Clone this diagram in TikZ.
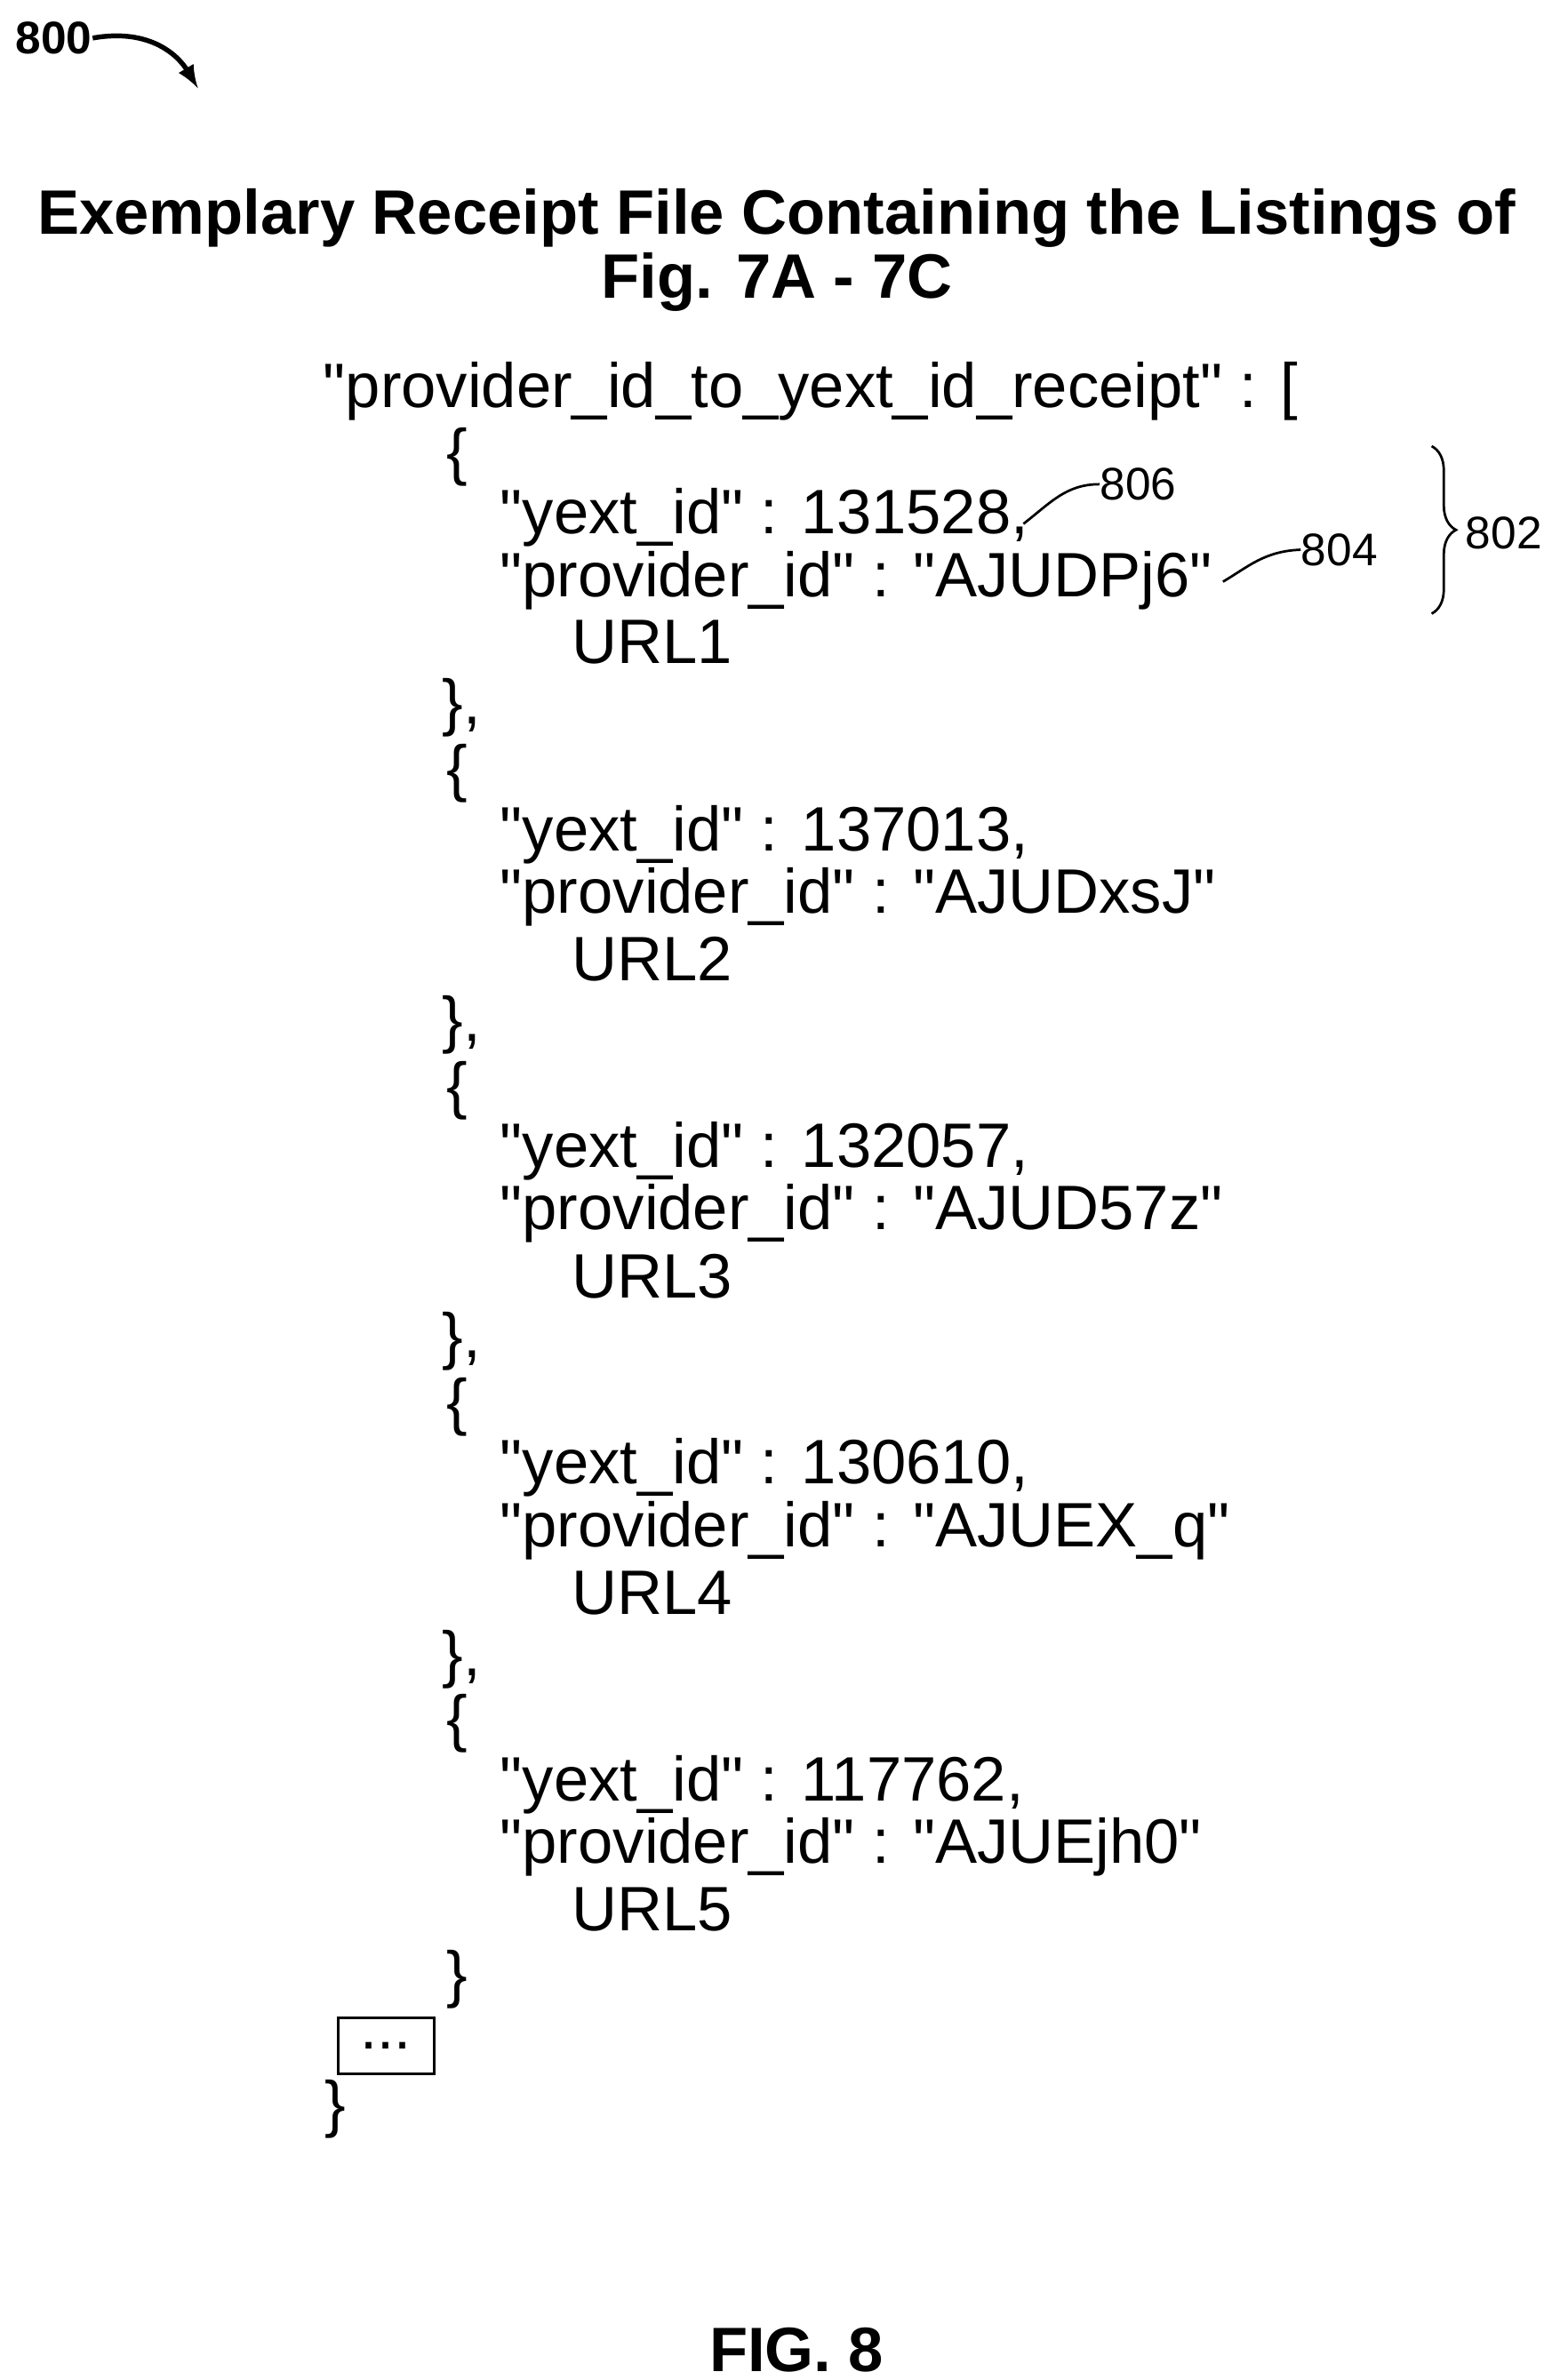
\documentclass[tikz,border=0pt]{standalone}
\usepackage{fontspec}
\setmainfont{Liberation Sans}
\usetikzlibrary{decorations.pathreplacing}
\newcommand\qq{\textquotedbl}
\tikzset{
  code/.style={anchor=west,inner sep=0pt,font=\fontsize{20.6}{24}\selectfont},
  refnum/.style={anchor=west,inner sep=0pt,font=\fontsize{15}{18}\selectfont},
  head/.style={inner sep=0pt,font=\bfseries\fontsize{20.6}{24}\selectfont}
}
\begin{document}
\begin{tikzpicture}[x=0.5pt,y=-0.5pt]
\useasboundingbox (0,0) rectangle (1024,1563);

% figure number and title
\node[head,anchor=west,font=\bfseries\fontsize{15}{18}\selectfont] (fignum) at (10,25) {800};
\draw[-latex,line width=1.6pt] (fignum.east) .. controls (100,18) and (118,38) .. (130,58);
\node[head] (title1) at (510,143) {Exemplary Receipt File Containing the Listings of};
\node[head] (title2) at (510,185) {Fig. 7A - 7C};

% receipt listing
\node[code] (root) at (212,257) {\qq provider\_id\_to\_yext\_id\_receipt\qq{} : [};
\foreach \i/\yid/\pid [count=\n from 0] in {1/131528/AJUDPj6,2/137013/AJUDxsJ,3/132057/AJUD57z,4/130610/AJUEX\_q,5/117762/AJUEjh0}{
  \pgfmathsetmacro{\yy}{300+208*\n}
  \node[code] (open\i) at (293,\yy) {\{};
  \node[code] (yext\i) at (328,\yy+40) {\qq yext\_id\qq{} : \yid,};
  \node[code] (prov\i) at (328,\yy+81) {\qq provider\_id\qq{} : \qq\pid\qq};
  \node[code] (url\i) at (375,\yy+122) {URL\i};
}
\foreach \i/\yy in {1/465,2/673,3/881,4/1090}{
  \node[code] (close\i) at (290,\yy) {\},};
}
\node[code] (close5) at (293,1300) {\}};
\node[draw,line width=0.8pt,minimum width=31.5pt,minimum height=18.5pt,inner sep=0pt,
  font=\fontsize{20}{24}\selectfont] (more) at (253.5,1343.5) {...};
\node[code] (rootclose) at (213,1385) {\}};

% reference numerals
\node[refnum] (n806) at (722,318) {806};
\node[refnum] (n804) at (854,361) {804};
\node[refnum] (n802) at (962,350) {802};
\draw[line width=0.8pt] (672,344) .. controls (690,330) and (700,318) .. (n806.west);
\draw[line width=0.8pt] (803,382) .. controls (820,372) and (830,362) .. (n804.west);
\draw[line width=0.8pt,decorate,decoration={brace,amplitude=8pt}] (940,293) -- (940,403);

\node[head] (figcap) at (523,1543) {FIG. 8};
\end{tikzpicture}
\end{document}
